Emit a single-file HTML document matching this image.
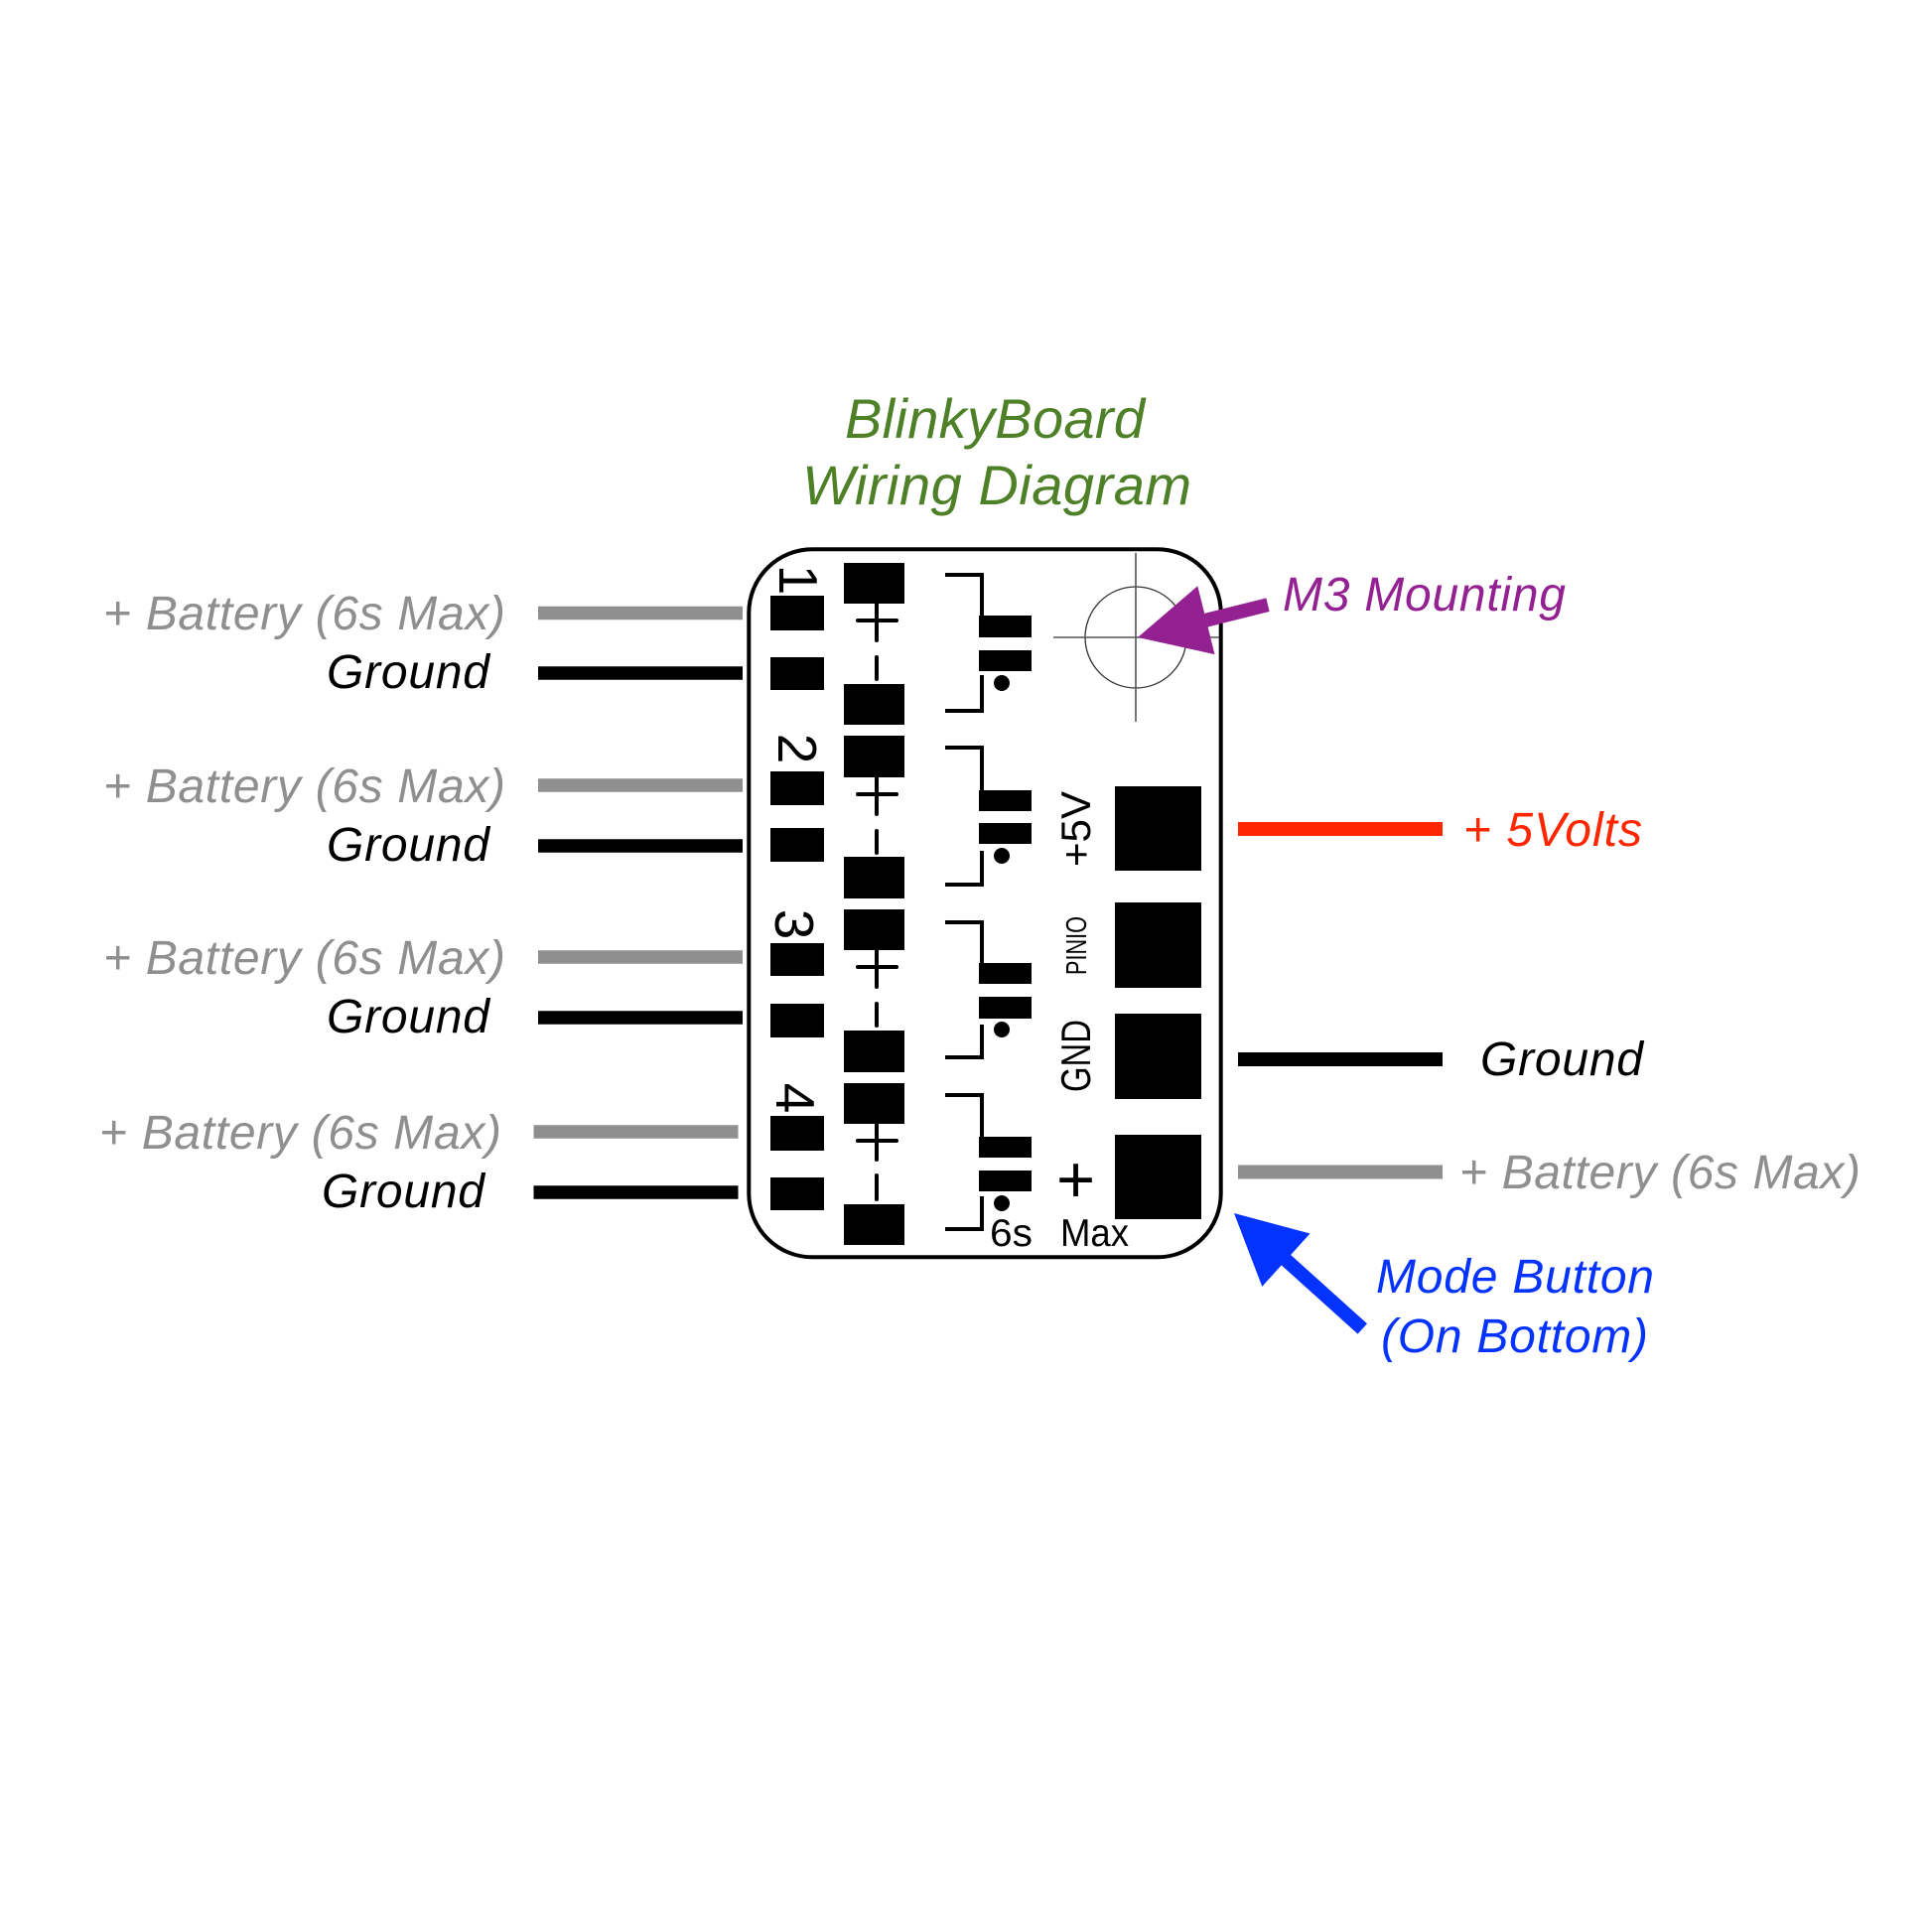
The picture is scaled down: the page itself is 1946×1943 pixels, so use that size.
<!DOCTYPE html>
<html>
<head>
<meta charset="utf-8">
<style>
  html,body{margin:0;padding:0;background:#fff;}
  svg{display:block;}
  .lbl{font-family:"Liberation Sans",Arial,Helvetica,sans-serif;font-style:italic;font-size:48px;}
  .pcb{font-family:"Liberation Sans",Arial,Helvetica,sans-serif;fill:#000;}
</style>
</head>
<body>
<svg width="1946" height="1943" viewBox="0 0 1946 1943" xmlns="http://www.w3.org/2000/svg">
  <rect x="0" y="0" width="1946" height="1943" fill="#fff"/>

  <!-- Title -->
  <text class="lbl" x="851" y="441" style="font-size:56px" fill="#4e8027" textLength="302">BlinkyBoard</text>
  <text class="lbl" x="808" y="508" style="font-size:56px" fill="#4e8027" textLength="392">Wiring Diagram</text>

  <!-- Left labels -->
  <g class="lbl">
    <text x="104" y="634" fill="#8f8f8f" textLength="405">+ Battery (6s Max)</text>
    <text x="329" y="693" fill="#000" textLength="164">Ground</text>
    <text x="104" y="808" fill="#8f8f8f" textLength="405">+ Battery (6s Max)</text>
    <text x="329" y="867" fill="#000" textLength="164">Ground</text>
    <text x="104" y="981" fill="#8f8f8f" textLength="405">+ Battery (6s Max)</text>
    <text x="329" y="1040" fill="#000" textLength="164">Ground</text>
    <text x="100" y="1157" fill="#8f8f8f" textLength="405">+ Battery (6s Max)</text>
    <text x="324" y="1216" fill="#000" textLength="164">Ground</text>
  </g>

  <!-- Left wires -->
  <g stroke-width="13.5">
    <line x1="542" y1="617.5" x2="748" y2="617.5" stroke="#8f8f8f"/>
    <line x1="542" y1="678" x2="748" y2="678" stroke="#000"/>
    <line x1="542" y1="791" x2="748" y2="791" stroke="#8f8f8f"/>
    <line x1="542" y1="852" x2="748" y2="852" stroke="#000"/>
    <line x1="542" y1="964" x2="748" y2="964" stroke="#8f8f8f"/>
    <line x1="542" y1="1025" x2="748" y2="1025" stroke="#000"/>
    <line x1="537.5" y1="1140" x2="743.5" y2="1140" stroke="#8f8f8f"/>
    <line x1="537.5" y1="1201" x2="743.5" y2="1201" stroke="#000"/>
  </g>

  <!-- Right wires -->
  <g stroke-width="14">
    <line x1="1247" y1="835" x2="1453" y2="835" stroke="#ff2600"/>
    <line x1="1247" y1="1067" x2="1453" y2="1067" stroke="#000"/>
    <line x1="1247" y1="1180.5" x2="1453" y2="1180.5" stroke="#8f8f8f"/>
  </g>

  <!-- Right labels -->
  <g class="lbl">
    <text x="1292" y="615" fill="#942192" textLength="285">M3 Mounting</text>
    <text x="1474" y="852" fill="#ff2600" textLength="180">+ 5Volts</text>
    <text x="1491" y="1083" fill="#000" textLength="164">Ground</text>
    <text x="1470" y="1197" fill="#8f8f8f" textLength="404">+ Battery (6s Max)</text>
    <text x="1386" y="1302" fill="#0433ff" textLength="280">Mode Button</text>
    <text x="1391" y="1362" fill="#0433ff" textLength="269">(On Bottom)</text>
  </g>

  <!-- Mounting hole -->
  <circle cx="1144" cy="642" r="51" fill="none" stroke="#333" stroke-width="1.3"/>
  <line x1="1144" y1="557" x2="1144" y2="727" stroke="#555" stroke-width="1.6"/>
  <line x1="1061" y1="642" x2="1228" y2="642" stroke="#555" stroke-width="1.6"/>

  <!-- Board outline -->
  <rect x="754.3" y="553.3" width="475.4" height="713" rx="64" ry="64" fill="none" stroke="#000" stroke-width="4"/>

  <!-- Small pads -->
  <g fill="#000">
    <rect x="776" y="600" width="54" height="35"/>
    <rect x="776" y="662" width="54" height="33"/>
    <rect x="776" y="777" width="54" height="34"/>
    <rect x="776" y="834" width="54" height="34"/>
    <rect x="776" y="950" width="54" height="33"/>
    <rect x="776" y="1011" width="54" height="34"/>
    <rect x="776" y="1124" width="54" height="35"/>
    <rect x="776" y="1186" width="54" height="33"/>
  </g>

  <!-- Big pads -->
  <g fill="#000">
    <rect x="850" y="567" width="61" height="41"/>
    <rect x="850" y="689" width="61" height="41"/>
    <rect x="850" y="741" width="61" height="42"/>
    <rect x="850" y="863" width="61" height="42"/>
    <rect x="850" y="916" width="61" height="41"/>
    <rect x="850" y="1038" width="61" height="42"/>
    <rect x="850" y="1091" width="61" height="41"/>
    <rect x="850" y="1213" width="61" height="41"/>
  </g>

  <!-- Polarity marks -->
  <g stroke="#000" stroke-width="4" stroke-linecap="round">
    <line x1="864" y1="625" x2="903" y2="625"/>
    <line x1="883" y1="608" x2="883" y2="645"/>
    <line x1="883" y1="662" x2="883" y2="684"/>

    <line x1="864" y1="800" x2="903" y2="800"/>
    <line x1="883" y1="783" x2="883" y2="820"/>
    <line x1="883" y1="837" x2="883" y2="859"/>

    <line x1="864" y1="974" x2="903" y2="974"/>
    <line x1="883" y1="957" x2="883" y2="994"/>
    <line x1="883" y1="1011" x2="883" y2="1033"/>

    <line x1="864" y1="1149" x2="903" y2="1149"/>
    <line x1="883" y1="1132" x2="883" y2="1168"/>
    <line x1="883" y1="1184" x2="883" y2="1208"/>
  </g>

  <!-- Brackets -->
  <g stroke="#000" stroke-width="4" fill="none">
    <polyline points="952,579 989,579 989,622"/>
    <polyline points="989,680 989,716 952,716"/>
    <polyline points="952,753 989,753 989,796"/>
    <polyline points="989,857 989,891 952,891"/>
    <polyline points="952,929 989,929 989,970"/>
    <polyline points="989,1032 989,1065 952,1065"/>
    <polyline points="952,1103 989,1103 989,1145"/>
    <polyline points="989,1205 989,1238 952,1238"/>
  </g>

  <!-- LED pads and dots -->
  <g fill="#000">
    <rect x="986" y="620" width="53" height="22"/>
    <rect x="986" y="655" width="53" height="21"/>
    <circle cx="1009" cy="688" r="8"/>
    <rect x="986" y="796" width="53" height="21"/>
    <rect x="986" y="829" width="53" height="21"/>
    <circle cx="1009" cy="862" r="8"/>
    <rect x="986" y="970" width="53" height="21"/>
    <rect x="986" y="1004" width="53" height="22"/>
    <circle cx="1009" cy="1037" r="8"/>
    <rect x="986" y="1145" width="53" height="21"/>
    <rect x="986" y="1179" width="53" height="21"/>
    <circle cx="1009" cy="1212" r="8"/>
  </g>

  <!-- Right pads -->
  <g fill="#000">
    <rect x="1123" y="792" width="87" height="85"/>
    <rect x="1123" y="909" width="87" height="86"/>
    <rect x="1123" y="1021" width="87" height="86"/>
    <rect x="1123" y="1143" width="87" height="85"/>
  </g>

  <!-- Number labels (rotated) -->
  <g class="pcb" font-size="55" text-anchor="middle">
    <text transform="translate(785,584) rotate(90)">1</text>
    <text transform="translate(784,754) rotate(90)">2</text>
    <text transform="translate(781,931) rotate(90)">3</text>
    <text transform="translate(782,1106) rotate(90)">4</text>
  </g>

  <!-- Board pad labels -->
  <g class="pcb">
    <text transform="translate(1098,873) rotate(-90)" font-size="42" textLength="76" lengthAdjust="spacingAndGlyphs">+5V</text>
    <text transform="translate(1094,982) rotate(-90)" font-size="29" textLength="59" lengthAdjust="spacingAndGlyphs">PINIO</text>
    <text transform="translate(1098,1100) rotate(-90)" font-size="42" textLength="73" lengthAdjust="spacingAndGlyphs">GND</text>
    <text x="1064" y="1211" font-size="67">+</text>
    <text x="997" y="1255" font-size="39" textLength="43" lengthAdjust="spacingAndGlyphs">6s</text>
    <text x="1068" y="1255" font-size="39" textLength="69" lengthAdjust="spacingAndGlyphs">Max</text>
  </g>

  <!-- Purple arrow -->
  <polygon fill="#942192" points="1146,642 1206.3,590.3 1213.2,617.9 1275.3,602.4 1278.7,616 1216.6,631.5 1223.5,659.1"/>

  <!-- Blue arrow -->
  <polygon fill="#0433ff" points="1243,1222 1319.5,1242.5 1300.1,1264 1377,1333.2 1367.6,1343.6 1290.7,1274.4 1271.3,1295.9"/>
</svg>
</body>
</html>
